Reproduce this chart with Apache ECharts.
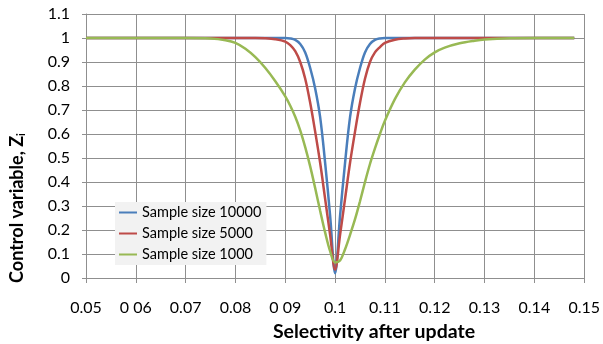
<!DOCTYPE html>
<html>
<head>
<meta charset="utf-8">
<script src="https://cdn.jsdelivr.net/npm/echarts@6/dist/echarts.min.js"></script>
<style>
  html, body { margin: 0; padding: 0; background: #fff; }
  #chart { width: 603px; height: 344px; }
</style>
</head>
<body>
<div id="chart"></div>
<script>
// selectivity values (x)
const selectivity = [0.05, 0.06, 0.07, 0.075, 0.078, 0.08, 0.082, 0.084, 0.086, 0.088,
  0.09, 0.091, 0.092, 0.093, 0.094, 0.095, 0.096, 0.097, 0.098, 0.099,
  0.1, 0.101, 0.102, 0.103, 0.104, 0.105, 0.106, 0.107, 0.108, 0.109,
  0.11, 0.112, 0.114, 0.116, 0.118, 0.12, 0.122, 0.125, 0.128, 0.13,
  0.135, 0.14, 0.148];

const size10000 = [1, 1, 1, 1, 1, 1, 1, 1, 1, 1,
  1, 0.998, 0.992, 0.975, 0.94, 0.875, 0.79, 0.67, 0.48, 0.26,
  0.02, 0.26, 0.48, 0.67, 0.79, 0.875, 0.94, 0.975, 0.992, 0.998,
  1, 1, 1, 1, 1, 1, 1, 1, 1, 1,
  1, 1, 1];

const size5000 = [1, 1, 1, 1, 1, 1, 1, 1, 0.999, 0.995,
  0.985, 0.97, 0.945, 0.9, 0.83, 0.73, 0.61, 0.48, 0.33, 0.18,
  0.035, 0.18, 0.33, 0.48, 0.61, 0.73, 0.83, 0.9, 0.94, 0.962,
  0.98, 0.993, 0.998, 1, 1, 1, 1, 1, 1, 1,
  1, 1, 1];

const size1000 = [1, 1, 1, 0.998, 0.991, 0.98, 0.955, 0.92, 0.875, 0.82,
  0.757, 0.718, 0.672, 0.615, 0.545, 0.465, 0.375, 0.28, 0.19, 0.112,
  0.065, 0.073, 0.12, 0.18, 0.245, 0.32, 0.4, 0.475, 0.54, 0.6,
  0.655, 0.745, 0.815, 0.868, 0.91, 0.94, 0.96, 0.978, 0.989, 0.994,
  0.999, 1, 1];

const xTickLabels = ['0.05', '0 06', '0.07', '0.08', '0 09', '0.1', '0.11', '0.12', '0.13', '0.14', '0.15'];
const yTickLabels = ['0', '0.1', '0.2', '0.3', '0.4', '0.5', '0.6', '0.7', '0.8', '0.9', '1', '1.1'];

const gridColor = '#8f8f8f';
const font = 'Lato';

function pairs(ys) {
  return selectivity.map((x, i) => [x, ys[i]]);
}

function lineSeries(name, ys, color) {
  return {
    name: name,
    type: 'line',
    data: pairs(ys),
    symbol: 'none',
    smooth: 0.35,
    lineStyle: { color: color, width: 2.5 },
    itemStyle: { color: color }
  };
}

const chart = echarts.init(document.getElementById('chart'));

const option = {
  animation: false,
  backgroundColor: '#fff',
  textStyle: { fontFamily: font },
  grid: { left: 86, right: 18, top: 14, bottom: 66 },
  xAxis: {
    type: 'value',
    min: 0.05,
    max: 0.15,
    interval: 0.01,
    axisLine: { show: true, lineStyle: { color: gridColor, width: 1 } },
    axisTick: { show: true, length: 5, lineStyle: { color: gridColor } },
    splitLine: { show: true, lineStyle: { color: gridColor, width: 1 } },
    axisLabel: {
      margin: 22,
      color: '#000',
      fontSize: 16,
      fontFamily: font,
      formatter: v => xTickLabels[Math.round((v - 0.05) / 0.01)]
    }
  },
  yAxis: {
    type: 'value',
    min: 0,
    max: 1.1,
    interval: 0.1,
    axisLine: { show: true, lineStyle: { color: gridColor, width: 1 } },
    axisTick: { show: true, length: 4, lineStyle: { color: gridColor } },
    splitLine: { show: true, lineStyle: { color: gridColor, width: 1 } },
    axisLabel: {
      margin: 16,
      color: '#000',
      fontSize: 16,
      fontFamily: font,
      formatter: v => yTickLabels[Math.round(v * 10)]
    }
  },
  legend: {
    orient: 'vertical',
    left: 115,
    top: 202,
    padding: [3, 5, 3, 4],
    backgroundColor: '#f2f2f2',
    icon: 'rect',
    itemWidth: 18,
    itemHeight: 2,
    itemGap: 6,
    textStyle: { color: '#000', fontSize: 14.5, fontFamily: font },
    data: ['Sample size 10000', 'Sample size 5000', 'Sample size 1000']
  },
  graphic: [
    {
      type: 'text',
      x: 374,
      y: 332,
      style: {
        text: 'Selectivity after update',
        fontFamily: font,
        fontWeight: 'bold',
        fontSize: 19.5,
        fill: '#000',
        align: 'center',
        verticalAlign: 'middle'
      }
    },
    {
      type: 'text',
      x: 17,
      y: 208,
      rotation: Math.PI / 2,
      style: {
        text: '{b|Control variable, Z}{s|i}',
        align: 'center',
        verticalAlign: 'middle',
        rich: {
          b: { fontFamily: font, fontWeight: 'bold', fontSize: 18, fill: '#000' },
          s: { fontFamily: font, fontWeight: 'bold', fontSize: 11, fill: '#000', verticalAlign: 'bottom', padding: [8, 0, 0, 0] }
        }
      }
    }
  ],
  series: [
    lineSeries('Sample size 10000', size10000, '#4a7ebb'),
    lineSeries('Sample size 5000', size5000, '#be4b48'),
    lineSeries('Sample size 1000', size1000, '#98b954')
  ]
};

chart.setOption(option);
</script>
</body>
</html>
